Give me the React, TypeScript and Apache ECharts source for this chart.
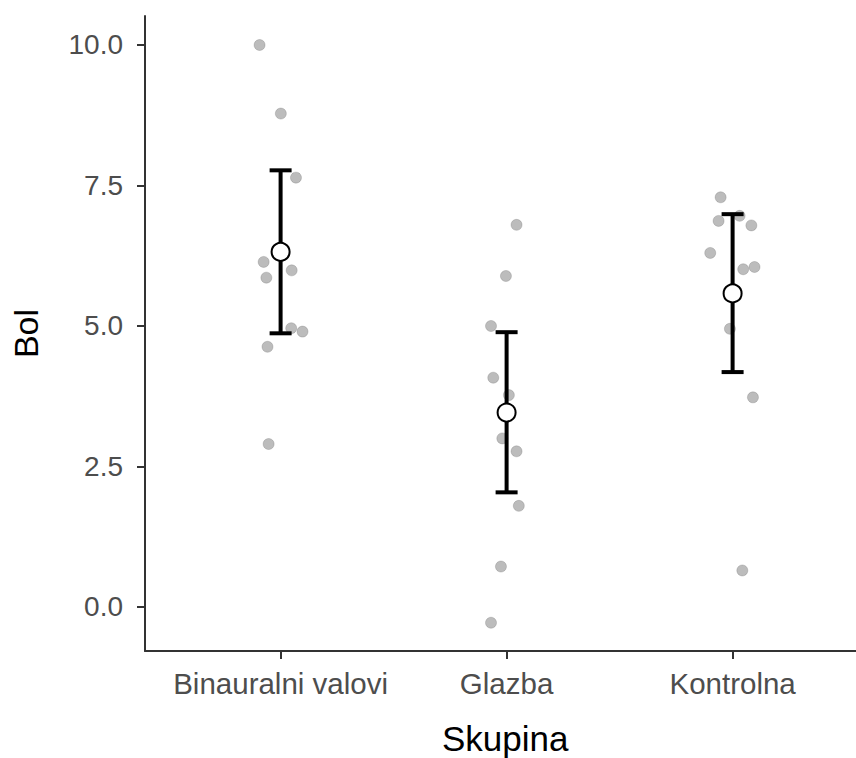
import React, { useEffect, useRef } from "react";
import * as echarts from "echarts";

const categories = ["Binauralni valovi", "Glazba", "Kontrolna"];

// individual observations per group (Bol)
const binauralValues = [10.0, 8.78, 7.64, 6.14, 5.99, 5.86, 4.96, 4.9, 4.63, 2.9];
const glazbaValues = [6.8, 5.89, 5.0, 4.08, 3.77, 3.0, 2.77, 1.8, 0.72, -0.28];
const kontrolnaValues = [7.29, 6.96, 6.87, 6.79, 6.3, 6.05, 6.01, 4.95, 3.73, 0.65];

// horizontal jitter offsets (category units)
const binauralJitter = [-0.093, 0.001, 0.068, -0.075, 0.049, -0.063, 0.047, 0.097, -0.058, -0.053];
const glazbaJitter = [0.044, -0.003, -0.069, -0.059, 0.01, -0.019, 0.044, 0.054, -0.025, -0.069];
const kontrolnaJitter = [-0.053, 0.031, -0.062, 0.083, -0.099, 0.097, 0.047, -0.012, 0.09, 0.043];

// summary: mean and interval bounds
const means = [6.32, 3.46, 5.58];
const lowers = [4.87, 2.04, 4.18];
const uppers = [7.77, 4.89, 6.99];

const yTicks = [0, 2.5, 5, 7.5, 10];

export default function App() {
  const ref = useRef<HTMLDivElement>(null);

  useEffect(() => {
    if (!ref.current) return;
    const chart = echarts.init(ref.current, undefined, { renderer: "svg" });

    const groups = [
      { v: binauralValues, j: binauralJitter },
      { v: glazbaValues, j: glazbaJitter },
      { v: kontrolnaValues, j: kontrolnaJitter },
    ];
    const pointData: number[][] = [];
    groups.forEach((g, gi) => {
      g.v.forEach((val, i) => pointData.push([gi + 1 + g.j[i], val]));
    });
    const errData = categories.map((_, i) => [i + 1, lowers[i], uppers[i]]);
    const meanData = categories.map((_, i) => [i + 1, means[i]]);

    const font = "'Liberation Sans', Arial, sans-serif";

    chart.setOption({
      animation: false,
      backgroundColor: "#ffffff",
      grid: { left: 145, top: 16, right: 0, height: 635 },
      xAxis: {
        type: "value",
        min: 0.4,
        max: 3.546,
        splitLine: { show: false },
        axisLine: { show: true, onZero: false, lineStyle: { color: "#333333", width: 2 } },
        axisTick: {
          show: true,
          length: 8,
          customValues: [1, 2, 3],
          lineStyle: { color: "#333333", width: 2 },
        },
        axisLabel: {
          customValues: [1, 2, 3],
          formatter: (v: number) => categories[Math.round(v) - 1] ?? "",
          fontFamily: font,
          fontSize: 29.5,
          color: "#4D4D4D",
          margin: 17,
        },
      },
      yAxis: {
        type: "value",
        min: -0.783,
        max: 10.516,
        name: "Bol",
        nameLocation: "middle",
        nameRotate: 90,
        nameGap: 102,
        nameTextStyle: { fontFamily: font, fontSize: 34, color: "#000000" },
        splitLine: { show: false },
        axisLine: { show: true, onZero: false, lineStyle: { color: "#333333", width: 2 } },
        axisTick: {
          show: true,
          length: 8,
          customValues: yTicks,
          lineStyle: { color: "#333333", width: 2 },
        },
        axisLabel: {
          customValues: yTicks,
          formatter: (v: number) => v.toFixed(1),
          fontFamily: font,
          fontSize: 28,
          color: "#4D4D4D",
          margin: 22,
        },
      },
      graphic: [
        {
          type: "text",
          left: 507 - 65,
          top: 721,
          style: {
            text: "Skupina",
            fontFamily: font,
            fontSize: 35,
            lineHeight: 35,
            fill: "#000000",
            width: 130,
            align: "center",
          },
        },
      ],
      series: [
        {
          type: "scatter",
          data: pointData,
          symbol: "circle",
          symbolSize: 11,
          itemStyle: { color: "rgba(120,120,120,0.62)", borderColor: "rgba(100,100,100,0.4)", borderWidth: 0.8 },
          z: 2,
        },
        {
          type: "custom",
          data: errData,
          z: 3,
          renderItem: (_params: any, api: any) => {
            const x = api.value(0);
            const lo = api.coord([x, api.value(1)]);
            const hi = api.coord([x, api.value(2)]);
            const hw = 11;
            const style = { stroke: "#000000", lineWidth: 4 };
            return {
              type: "group",
              children: [
                { type: "line", shape: { x1: hi[0], y1: hi[1], x2: lo[0], y2: lo[1] }, style },
                { type: "line", shape: { x1: hi[0] - hw, y1: hi[1], x2: hi[0] + hw, y2: hi[1] }, style },
                { type: "line", shape: { x1: lo[0] - hw, y1: lo[1], x2: lo[0] + hw, y2: lo[1] }, style },
              ],
            };
          },
        },
        {
          type: "scatter",
          data: meanData,
          symbol: "circle",
          symbolSize: 18,
          itemStyle: { color: "#ffffff", borderColor: "#000000", borderWidth: 2, opacity: 1 },
          emphasis: { disabled: true },
          z: 4,
        },
      ],
    });

    return () => chart.dispose();
  }, []);

  return (
    <div
      ref={ref}
      style={{ position: "absolute", left: 0, top: 0, width: 856, height: 758, overflow: "hidden" }}
    />
  );
}
